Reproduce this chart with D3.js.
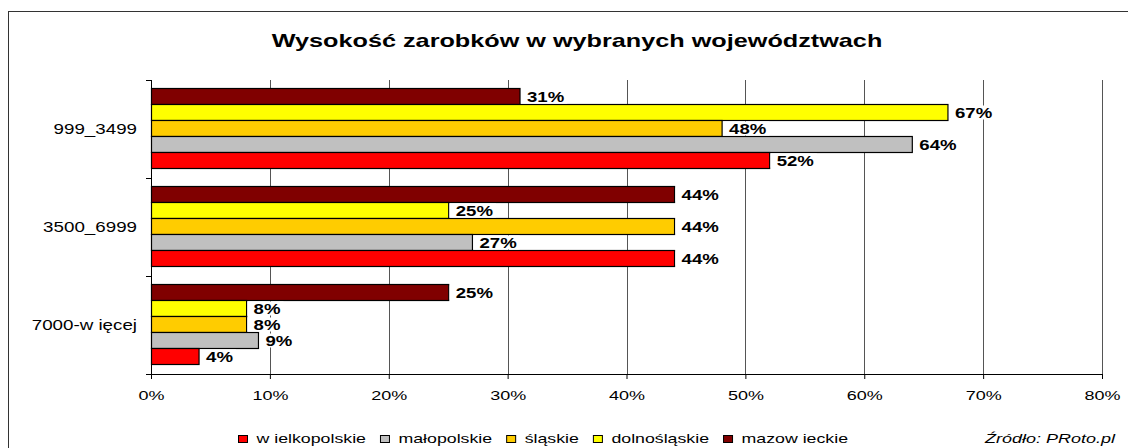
<!DOCTYPE html>
<html><head><meta charset="utf-8">
<script src="https://cdn.jsdelivr.net/npm/d3@7"></script>
<style>
html,body{margin:0;padding:0;background:#fff;}
svg{display:block;font-family:"Liberation Sans",Arial,sans-serif;}
</style></head>
<body><svg id="c" width="1128" height="448"></svg>
<script>
const categories = ["999_3499", "3500_6999", "7000-w ięcej"];
const seriesNames = ["w ielkopolskie", "małopolskie", "śląskie", "dolnośląskie", "mazow ieckie"];
const wielkopolskie = [0.52, 0.44, 0.04];
const malopolskie   = [0.64, 0.27, 0.09];
const slaskie       = [0.48, 0.44, 0.08];
const dolnoslaskie  = [0.67, 0.25, 0.08];
const mazowieckie   = [0.31, 0.44, 0.25];
const xTicks = [0, 0.1, 0.2, 0.3, 0.4, 0.5, 0.6, 0.7, 0.8];
const seriesColors = ["#FF0000", "#C0C0C0", "#FFCC00", "#FFFF00", "#800000"];
const titleText = "Wysokość zarobków w wybranych województwach";
const sourceText = "Źródło: PRoto.pl";

const seriesValues = [wielkopolskie, malopolskie, slaskie, dolnoslaskie, mazowieckie];
const svg = d3.select("#c");

// outer frame
svg.append("rect").attr("x", 8.5).attr("y", 11.5).attr("width", 1300).attr("height", 600)
  .attr("fill", "#fff").attr("stroke", "#333").attr("stroke-width", 1);

const x = d3.scaleLinear().domain([0, 0.8]).range([151, 1102]);
const y = d3.scaleBand().domain(categories).range([80, 374]).padding(0);
const order = [4, 3, 2, 1, 0]; // top to bottom: mazowieckie ... wielkopolskie
const yInner = d3.scaleBand().domain(order).range([0, y.bandwidth()]).paddingInner(0).paddingOuter(0.5625).align(0.45);

function stretch(sel, px, py, sx) {
  sel.attr("x", 0).attr("y", 0).attr("transform", `translate(${px},${py}) scale(${sx},1)`);
  return sel;
}

// gridlines
svg.append("g").selectAll("line").data(xTicks.slice(1)).join("line")
  .attr("x1", d => Math.round(x(d)) + 0.5).attr("x2", d => Math.round(x(d)) + 0.5)
  .attr("y1", 80).attr("y2", 374).attr("stroke", "#555").attr("stroke-width", 1);

// bars
const rows = [];
categories.forEach((c, ci) => {
  order.forEach(si => rows.push({ c, si, v: seriesValues[si][ci] }));
});
const gBars = svg.append("g");
gBars.selectAll("rect").data(rows).join("rect")
  .attr("x", x(0) + 0.5)
  .attr("y", d => Math.round(y(d.c) + yInner(d.si)) + 0.5)
  .attr("width", d => x(d.v) - x(0))
  .attr("height", yInner.bandwidth())
  .attr("fill", d => seriesColors[d.si])
  .attr("stroke", "#000").attr("stroke-width", 1.2);

// value labels
const labelSx = 1.33;
const gLab = svg.append("g");
rows.forEach(d => {
  const by = Math.round(y(d.c) + yInner(d.si)) + 0.5;
  const cy = by + yInner.bandwidth() / 2;
  const tx = x(d.v) + 7.5;
  const g = gLab.append("g");
  const box = g.append("rect");
  const t = g.append("text").text(d3.format(".0%")(d.v))
    .attr("font-size", 14).attr("font-weight", "bold").attr("fill", "#000")
    .attr("dy", "0.38em");
  stretch(t, tx, cy, labelSx);
  const w = t.node().getComputedTextLength() * labelSx;
  box.attr("x", x(d.v) + 1.5).attr("y", by + 1).attr("width", tx + w + 3 - (x(d.v) + 1.5))
    .attr("height", yInner.bandwidth() - 2).attr("fill", "#fff");
});

// axes
const ax = svg.append("g").attr("transform", "translate(0,374)")
  .call(d3.axisBottom(x).tickValues(xTicks).tickFormat(d3.format(".0%")).tickSizeInner(5).tickSizeOuter(0));
ax.select(".domain").attr("stroke", "#000");
ax.selectAll(".tick line").attr("stroke", "#000");
ax.selectAll(".tick text").each(function () {
  const t = d3.select(this);
  t.attr("font-size", 12).attr("font-family", "Liberation Sans, Arial, sans-serif").attr("fill", "#000")
   .attr("dy", null).attr("text-anchor", "middle");
  stretch(t, 0, 26, 1.5);
});

// left axis
svg.append("line").attr("x1", 151.5).attr("x2", 151.5).attr("y1", 80).attr("y2", 374).attr("stroke", "#000");
const yTickPos = categories.map(c => y(c)).concat([y.range()[1]]);
svg.append("g").selectAll("line").data(yTickPos).join("line")
  .attr("x1", 146).attr("x2", 151.5).attr("y1", d => Math.round(d) + 0.5).attr("y2", d => Math.round(d) + 0.5)
  .attr("stroke", "#000");
svg.append("g").selectAll("text").data(categories).join("text")
  .text(d => d).attr("font-size", 14).attr("fill", "#000").attr("text-anchor", "end").attr("dy", "0.36em")
  .each(function (d) { stretch(d3.select(this), 137, y(d) + y.bandwidth() / 2, 1.34); });

// title
const title = svg.append("text").text(titleText).attr("font-size", 18).attr("font-weight", "bold")
  .attr("text-anchor", "middle").attr("fill", "#000");
stretch(title, 577, 47, 1.0);
const tw = title.node().getComputedTextLength();
stretch(title, 577, 47, 611 / tw);

// legend
const legSx = 1.48;
let lx = 238;
const gLeg = svg.append("g");
seriesNames.forEach((name, i) => {
  gLeg.append("rect").attr("x", lx + 0.5).attr("y", 435.5).attr("width", 9).attr("height", 7)
    .attr("fill", seriesColors[i]).attr("stroke", "#000");
  const t = gLeg.append("text").text(name).attr("font-size", 12).attr("fill", "#000");
  stretch(t, lx + 18.5, 443, legSx);
  lx += 18.5 + t.node().getComputedTextLength() * legSx + 14;
});
const src = svg.append("text").text(sourceText).attr("font-size", 12).attr("font-style", "italic")
  .attr("text-anchor", "end").attr("fill", "#000");
stretch(src, 1115, 443, 1.5);
</script></body></html>
